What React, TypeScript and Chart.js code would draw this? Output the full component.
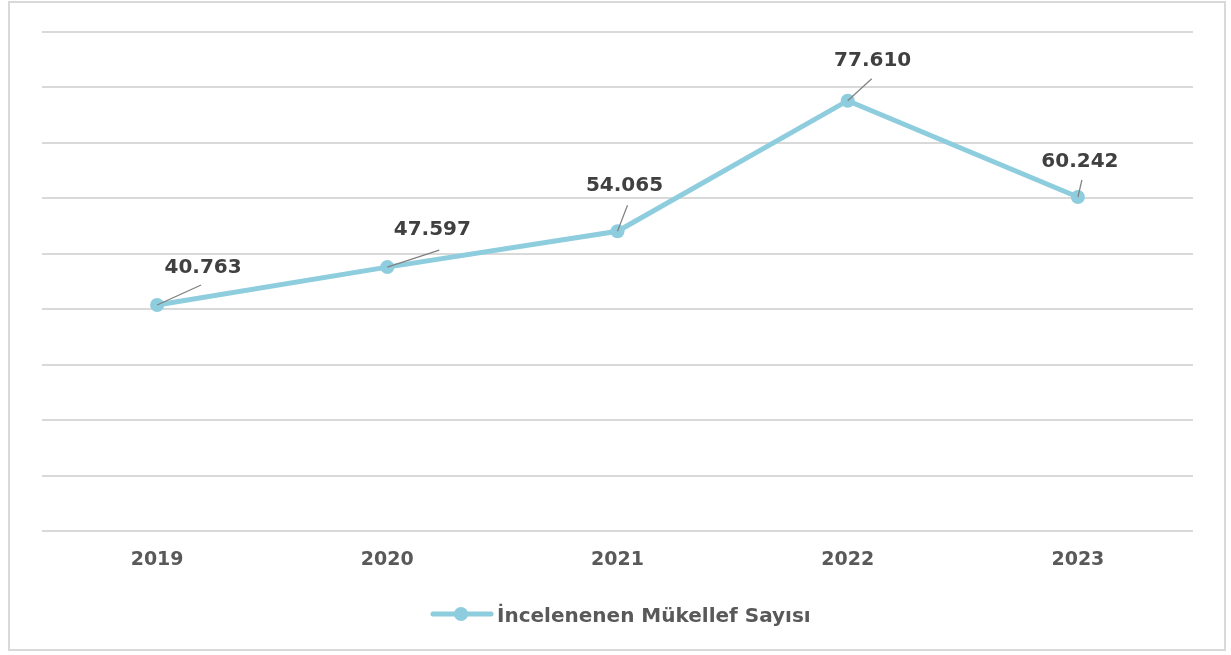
import React, { useEffect, useRef } from "react";
import { Chart, registerables } from "chart.js";

Chart.register(...registerables);

const categories = ["2019", "2020", "2021", "2022", "2023"];
const values = [40763, 47597, 54065, 77610, 60242];
const valueLabels = ["40.763", "47.597", "54.065", "77.610", "60.242"];
const seriesName = "İncelenenen Mükellef Sayısı";
const yMax = 90000;
const yStep = 10000;

// label placement relative to each point (dx, dy of text centre; leader end)
const labelOffsets = [
  { tx: 46, ty: -37, lx: 44, ly: -20 },
  { tx: 45, ty: -37, lx: 52, ly: -17 },
  { tx: 7, ty: -45, lx: 10, ly: -26 },
  { tx: 25, ty: -40, lx: 24, ly: -22 },
  { tx: 2, ty: -35, lx: 4, ly: -17 },
];

const LINE_COLOR = "#8ECDDE";
const FONT = "'DejaVu Sans', Verdana, sans-serif";

const labelPlugin = {
  id: "customLabels",
  afterDatasetsDraw(chart: any) {
    const ctx = chart.ctx;
    const meta = chart.getDatasetMeta(0);
    ctx.save();
    meta.data.forEach((pt: any, i: number) => {
      const o = labelOffsets[i];
      ctx.strokeStyle = "#7F7F7F";
      ctx.lineWidth = 1.2;
      ctx.beginPath();
      ctx.moveTo(pt.x, pt.y);
      ctx.lineTo(pt.x + o.lx, pt.y + o.ly);
      ctx.stroke();
      ctx.fillStyle = "#404040";
      ctx.font = `bold 20px ${FONT}`;
      ctx.textAlign = "center";
      ctx.textBaseline = "middle";
      ctx.fillText(valueLabels[i], pt.x + o.tx, pt.y + o.ty);
    });
    ctx.restore();
  },
  afterDraw(chart: any) {
    const ctx = chart.ctx;
    ctx.save();
    const y = 614;
    ctx.strokeStyle = LINE_COLOR;
    ctx.lineWidth = 5;
    ctx.lineCap = "round";
    ctx.beginPath();
    ctx.moveTo(433, y);
    ctx.lineTo(491, y);
    ctx.stroke();
    ctx.fillStyle = LINE_COLOR;
    ctx.beginPath();
    ctx.arc(461, y, 7, 0, Math.PI * 2);
    ctx.fill();
    ctx.fillStyle = "#595959";
    ctx.font = `bold 20px ${FONT}`;
    ctx.textAlign = "left";
    ctx.textBaseline = "alphabetic";
    ctx.fillText(seriesName, 497, 622);
    ctx.restore();
  },
};

export default function App() {
  const ref = useRef<HTMLCanvasElement | null>(null);
  useEffect(() => {
    if (!ref.current) return;
    const chart = new Chart(ref.current, {
      type: "line",
      data: {
        labels: categories,
        datasets: [
          {
            label: seriesName,
            data: values,
            borderColor: LINE_COLOR,
            backgroundColor: LINE_COLOR,
            borderWidth: 5,
            pointRadius: 7,
            pointBackgroundColor: LINE_COLOR,
            pointBorderWidth: 0,
            tension: 0,
          },
        ],
      },
      options: {
        animation: false,
        responsive: false,
        maintainAspectRatio: false,
        layout: { padding: { left: 42, right: 38, top: 32, bottom: 0 } },
        plugins: { legend: { display: false }, tooltip: { enabled: false } },
        scales: {
          x: {
            offset: true,
            grid: { display: false, drawTicks: false },
            border: { display: false },
            ticks: {
              color: "#595959",
              font: { family: FONT, size: 19, weight: "bold" },
              padding: 18,
            },
            afterFit: (s: any) => {
              s.height = 124;
            },
          },
          y: {
            min: 0,
            max: yMax,
            ticks: { display: false, stepSize: yStep },
            grid: { color: "#D9D9D9", lineWidth: 2, drawTicks: false },
            border: { display: false },
            afterFit: (s: any) => {
              s.width = 0;
            },
          },
        },
      },
      plugins: [labelPlugin],
    });
    return () => chart.destroy();
  }, []);
  return (
    <div style={{ position: "fixed", left: 0, top: 0, width: 1231, height: 655, background: "#fff" }}>
      <div
        style={{
          position: "absolute",
          left: 8,
          top: 1,
          width: 1218,
          height: 650,
          border: "2px solid #D9D9D9",
          boxSizing: "border-box",
        }}
      />
      <canvas ref={ref} width={1231} height={655} style={{ position: "absolute", left: 0, top: 0 }} />
    </div>
  );
}
